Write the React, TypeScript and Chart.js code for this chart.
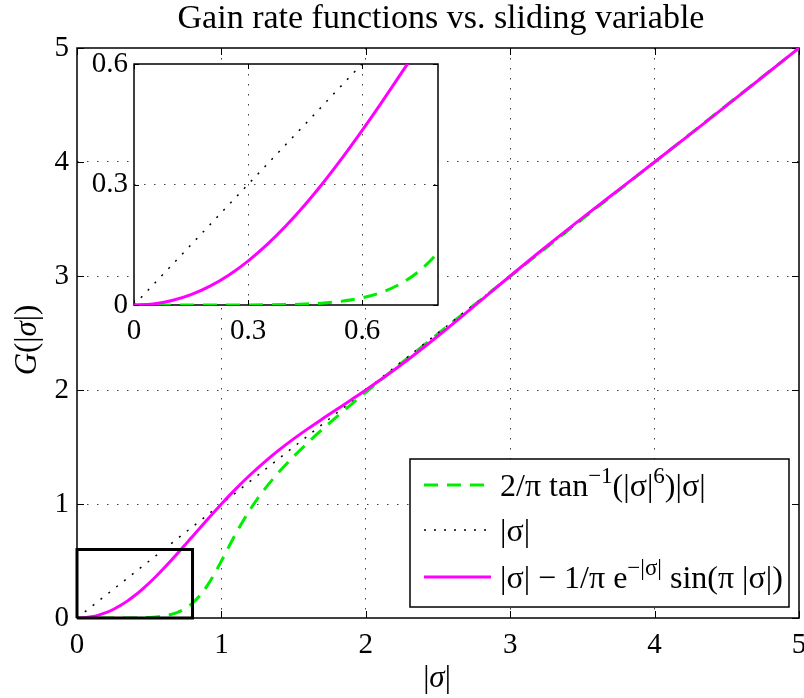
import React, { useEffect, useRef } from "react";
import { Chart, registerables } from "chart.js";

Chart.register(...registerables);

// |σ| sample positions
const sigma = [
  0, 0.05, 0.1, 0.15, 0.2, 0.25, 0.3, 0.35, 0.4, 0.45, 0.5, 0.55, 0.6, 0.65, 0.7, 0.75, 0.8, 0.85, 0.9, 0.95,
  1.0, 1.1, 1.2, 1.3, 1.4, 1.5, 1.6, 1.7, 1.8, 1.9, 2.0, 2.25, 2.5, 2.75, 3.0, 3.25, 3.5, 3.75, 4.0, 4.25,
  4.5, 4.75, 5.0,
];

// 2/π tan⁻¹(|σ|⁶)|σ|
const gainAtan = [
  0, 0, 0, 0, 0, 0, 0.0001, 0.0004, 0.001, 0.0024, 0.005, 0.0097, 0.0178, 0.0312, 0.0522, 0.0841, 0.1306,
  0.1952, 0.2799, 0.3834, 0.5, 0.7402, 0.9531, 1.1309, 1.2823, 1.4164, 1.5394, 1.6552, 1.7663, 1.8743,
  1.9801, 2.239, 2.4935, 2.746, 2.9974, 3.2482, 3.4988, 3.7493, 3.9994, 4.2495, 4.4997, 4.7497, 4.9998,
];

// |σ|
const gainLinear = [
  0, 0.05, 0.1, 0.15, 0.2, 0.25, 0.3, 0.35, 0.4, 0.45, 0.5, 0.55, 0.6, 0.65, 0.7, 0.75, 0.8, 0.85, 0.9, 0.95,
  1.0, 1.1, 1.2, 1.3, 1.4, 1.5, 1.6, 1.7, 1.8, 1.9, 2.0, 2.25, 2.5, 2.75, 3.0, 3.25, 3.5, 3.75, 4.0, 4.25,
  4.5, 4.75, 5.0,
];

// |σ| − 1/π e^{−|σ|} sin(π|σ|)
const gainSin = [
  0, 0.0026, 0.011, 0.0256, 0.0468, 0.0747, 0.1092, 0.1501, 0.1971, 0.2495, 0.3069, 0.3686, 0.4339, 0.5019,
  0.5721, 0.6437, 0.7159, 0.7882, 0.86, 0.9307, 1.0, 1.1327, 1.2564, 1.3702, 1.4747, 1.571, 1.6611, 1.747,
  1.8309, 1.9147, 2.0, 2.2263, 2.4739, 2.7356, 3.0, 3.2587, 3.5096, 3.7553, 4.0, 4.2468, 4.4965, 4.7481, 5.0,
];

// zoom window outline drawn in the main axes
const zoomBoxX = [0, 0.8, 0.8, 0, 0];
const zoomBoxY = [0, 0, 0.6, 0.6, 0];

const mainTicks = [0, 1, 2, 3, 4, 5];
const insetTicksX = [0, 0.3, 0.6];
const insetTicksY = [0, 0.3, 0.6];

const titleText = "Gain rate functions vs. sliding variable";

type Run = { t: string; sup?: boolean; italic?: boolean };

const legendRuns: Run[][] = [
  [{ t: "2/π tan" }, { t: "−1", sup: true }, { t: "(|σ|" }, { t: "6", sup: true }, { t: ")|σ|" }],
  [{ t: "|σ|" }],
  [{ t: "|σ| − 1/π e" }, { t: "−|σ|", sup: true }, { t: " sin(π |σ|)" }],
];
const xLabelRuns: Run[] = [{ t: "|" }, { t: "σ", italic: true }, { t: "|" }];
const yLabelRuns: Run[] = [{ t: "G", italic: true }, { t: "(|" }, { t: "σ", italic: true }, { t: "|)" }];

const GREEN = "#00ee00";
const MAGENTA = "#ff00ff";
const SERIF = '"Liberation Serif", "Times New Roman", serif';

const pts = (xs: number[], ys: number[]) => xs.map((x, i) => ({ x, y: ys[i] }));

function curveDatasets() {
  return [
    {
      label: "atan",
      data: pts(sigma, gainAtan),
      borderColor: GREEN,
      borderWidth: 3,
      borderDash: [14, 9],
      pointRadius: 0,
      cubicInterpolationMode: "monotone" as const,
      order: 3,
    },
    {
      label: "linear",
      data: pts(sigma, gainLinear),
      borderColor: "#000",
      borderWidth: 1.5,
      borderDash: [2, 8],
      pointRadius: 0,
      order: 2,
    },
    {
      label: "sin",
      data: pts(sigma, gainSin),
      borderColor: MAGENTA,
      borderWidth: 3,
      pointRadius: 0,
      cubicInterpolationMode: "monotone" as const,
      order: 1,
    },
  ];
}

function drawRuns(
  ctx: CanvasRenderingContext2D,
  runs: Run[],
  x: number,
  y: number,
  size: number,
  align: "left" | "center"
) {
  const fontFor = (r: Run) => `${r.italic ? "italic " : ""}${r.sup ? Math.round(size * 0.72) : size}px ${SERIF}`;
  let total = 0;
  for (const r of runs) {
    ctx.font = fontFor(r);
    total += ctx.measureText(r.t).width;
  }
  let cx = align === "center" ? x - total / 2 : x;
  ctx.textAlign = "left";
  ctx.textBaseline = "alphabetic";
  for (const r of runs) {
    ctx.font = fontFor(r);
    ctx.fillText(r.t, cx, r.sup ? y - size * 0.4 : y);
    cx += ctx.measureText(r.t).width;
  }
}

function axis(
  min: number,
  max: number,
  ticks: number[],
  fontSize: number,
  pad: number,
  fixed: number,
  horizontal: boolean
) {
  return {
    type: "linear" as const,
    min,
    max,
    afterBuildTicks: (s: any) => {
      s.ticks = ticks.map((v) => ({ value: v }));
    },
    afterFit: (s: any) => {
      if (horizontal) s.height = fixed;
      else s.width = fixed;
      s.paddingLeft = 0;
      s.paddingRight = 0;
      s.paddingTop = 0;
      s.paddingBottom = 0;
    },
    grid: {
      drawTicks: false,
      lineWidth: 1,
      color: (c: any) =>
        c.tick && (c.tick.value === min || c.tick.value === max) ? "rgba(0,0,0,0)" : "rgba(0,0,0,0.75)",
    },
    border: { display: false, dash: [1.5, 8.5] },
    ticks: {
      padding: pad,
      color: "#000",
      autoSkip: false,
      maxRotation: 0,
      font: { family: SERIF, size: fontSize },
      callback: (v: any) => String(Math.round(Number(v) * 10) / 10),
    },
  };
}

// box around the axes plus inward tick marks on all four sides
const framePlugin = (tickLen: number, frameWidth: number) => ({
  id: "frame",
  beforeDatasetsDraw(chart: any) {
    const { ctx, chartArea } = chart;
    const { left, right, top, bottom } = chartArea;
    const xs = chart.scales.x;
    const ys = chart.scales.y;
    ctx.save();
    ctx.strokeStyle = "#000";
    ctx.lineWidth = 1;
    ctx.beginPath();
    for (const t of xs.ticks) {
      const px = Math.round(xs.getPixelForValue(t.value)) + 0.5;
      ctx.moveTo(px, bottom);
      ctx.lineTo(px, bottom - tickLen);
      ctx.moveTo(px, top);
      ctx.lineTo(px, top + tickLen);
    }
    for (const t of ys.ticks) {
      const py = Math.round(ys.getPixelForValue(t.value)) + 0.5;
      ctx.moveTo(left, py);
      ctx.lineTo(left + tickLen, py);
      ctx.moveTo(right, py);
      ctx.lineTo(right - tickLen, py);
    }
    ctx.stroke();
    ctx.lineWidth = frameWidth;
    ctx.strokeRect(left, top, right - left, bottom - top);
    ctx.restore();
  },
});

const mainDecorations = {
  id: "mainDecorations",
  afterDraw(chart: any) {
    const ctx: CanvasRenderingContext2D = chart.ctx;
    ctx.save();
    ctx.fillStyle = "#000";

    // title
    ctx.font = `34px ${SERIF}`;
    ctx.textAlign = "center";
    ctx.textBaseline = "alphabetic";
    ctx.fillText(titleText, 441, 28);

    // axis labels
    drawRuns(ctx, xLabelRuns, 437, 687, 31, "center");
    ctx.save();
    ctx.translate(36, 340);
    ctx.rotate(-Math.PI / 2);
    drawRuns(ctx, yLabelRuns, 0, 0, 31, "center");
    ctx.restore();

    // legend
    const lx = 410;
    const ly = 459;
    const lw = 379;
    const lh = 148;
    ctx.fillStyle = "#fff";
    ctx.fillRect(lx, ly, lw, lh);
    ctx.strokeStyle = "#000";
    ctx.lineWidth = 1.5;
    ctx.strokeRect(lx, ly, lw, lh);

    const rowY = [485, 530, 577];
    const styles = [
      { color: GREEN, width: 3, dash: [14, 9] },
      { color: "#000", width: 1.5, dash: [2, 8] },
      { color: MAGENTA, width: 3, dash: [] as number[] },
    ];
    rowY.forEach((yy, i) => {
      const s = styles[i];
      ctx.beginPath();
      ctx.strokeStyle = s.color;
      ctx.lineWidth = s.width;
      ctx.setLineDash(s.dash);
      ctx.moveTo(424, yy);
      ctx.lineTo(491, yy);
      ctx.stroke();
      ctx.setLineDash([]);
      ctx.fillStyle = "#000";
      drawRuns(ctx, legendRuns[i], 500, yy + 11, 32, "left");
    });
    ctx.restore();
  },
};

const insetBackground = {
  id: "insetBackground",
  beforeDraw(chart: any) {
    const { ctx, chartArea } = chart;
    if (!chartArea) return;
    ctx.save();
    ctx.fillStyle = "#fff";
    ctx.fillRect(chartArea.left, chartArea.top, chartArea.right - chartArea.left, chartArea.bottom - chartArea.top);
    ctx.restore();
  },
};

export default function App() {
  const mainRef = useRef<HTMLCanvasElement>(null);
  const insetRef = useRef<HTMLCanvasElement>(null);

  useEffect(() => {
    const main = new Chart(mainRef.current!, {
      type: "line",
      data: {
        datasets: [
          ...curveDatasets(),
          {
            label: "zoom",
            data: pts(zoomBoxX, zoomBoxY),
            borderColor: "#000",
            borderWidth: 3,
            pointRadius: 0,
            tension: 0,
            clip: 4,
            order: 0,
          } as any,
        ],
      },
      options: {
        responsive: false,
        animation: false,
        devicePixelRatio: 1,
        events: [],
        layout: { padding: { top: 48, right: 5, left: 0, bottom: 0 } },
        plugins: { legend: { display: false }, tooltip: { enabled: false }, title: { display: false } },
        scales: {
          x: axis(0, 5, mainTicks, 29, 10, 80, true) as any,
          y: axis(0, 5, mainTicks, 29, 8, 77, false) as any,
        },
      },
      plugins: [framePlugin(7, 1.5), mainDecorations],
    });

    const inset = new Chart(insetRef.current!, {
      type: "line",
      data: { datasets: curveDatasets() as any },
      options: {
        responsive: false,
        animation: false,
        devicePixelRatio: 1,
        events: [],
        layout: { padding: { top: 24, right: 22, left: 0, bottom: 0 } },
        plugins: { legend: { display: false }, tooltip: { enabled: false }, title: { display: false } },
        scales: {
          x: axis(0, 0.8, insetTicksX, 29, 9, 45, true) as any,
          y: axis(0, 0.6, insetTicksY, 29, 6, 74, false) as any,
        },
      },
      plugins: [insetBackground, framePlugin(5, 1.5)],
    });

    return () => {
      main.destroy();
      inset.destroy();
    };
  }, []);

  return (
    <div style={{ position: "absolute", left: 0, top: 0, width: 804, height: 698, background: "#fff" }}>
      <canvas ref={mainRef} width={804} height={698} style={{ position: "absolute", left: 0, top: 0 }} />
      <canvas ref={insetRef} width={400} height={310} style={{ position: "absolute", left: 60, top: 40 }} />
    </div>
  );
}
